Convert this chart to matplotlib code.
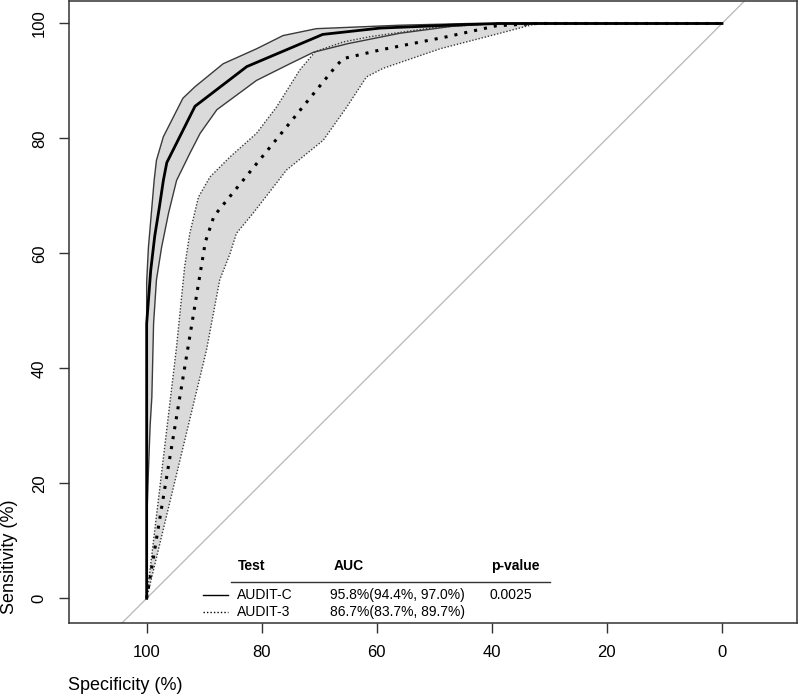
import matplotlib
matplotlib.use("Agg")
import matplotlib.pyplot as plt
from matplotlib.lines import Line2D

plt.rcParams['font.family'] = ['Liberation Sans', 'DejaVu Sans']

# AUDIT-C ROC curve (specificity %, sensitivity %)
spec_c = [100, 100, 99.3, 98.6, 97.8, 97.1, 96.5, 91.6, 82.6, 69.4, 59.4, 45.0, 38.8, 0]
sens_c = [0, 47.8, 57.0, 63.0, 68.0, 72.7, 75.8, 85.6, 92.5, 98.1, 99.2, 99.8, 100, 100]
# AUDIT-C confidence band
cu_spec = [100, 100, 99.7, 99.1, 98.7, 98.3, 97.1, 93.7, 91.6, 86.7, 80.9, 76.3, 70.5, 56.0, 44.0, 0]
cu_sens = [0, 55.0, 61.0, 68.0, 72.7, 76.2, 80.3, 87.0, 89.0, 93.0, 95.6, 97.9, 99.1, 99.7, 100, 100]
cl_spec = [100, 100, 99.7, 99.4, 99.1, 98.8, 98.3, 97.4, 96.2, 94.8, 92.5, 90.7, 87.8,
           80.9, 75.1, 71.0, 65.0, 56.0, 47.0, 39.0, 0]
cl_sens = [0, 13.0, 22.0, 30.0, 35.0, 47.8, 55.4, 61.1, 67.0, 72.7, 77.4, 80.9, 85.0,
           90.1, 93.0, 95.0, 96.5, 98.3, 99.5, 100, 100]

# AUDIT-3 ROC curve
spec_3 = [100, 89.8, 88.3, 67.0, 65.8, 59.4, 47.8, 39.2, 32.2, 0]
sens_3 = [0, 62.0, 66.5, 92.7, 93.9, 95.4, 97.7, 99.6, 100, 100]
# AUDIT-3 confidence band
u3_spec = [100, 94.8, 93.4, 92.5, 91.0, 89.0, 85.5, 80.9, 77.4, 73.4, 70.7, 65.8, 61.2, 50.0, 39.2, 0]
u3_sens = [0, 43.8, 57.7, 63.5, 69.8, 73.3, 76.8, 80.9, 85.5, 91.9, 95.1, 96.8, 97.7, 99.3, 100, 100]
l3_spec = [100, 89.6, 87.3, 85.5, 84.4, 81.5, 75.7, 69.3, 65.2, 61.8, 58.9, 49.0, 38.6, 32.2, 0]
l3_sens = [0, 43.2, 55.4, 60.0, 63.5, 67.0, 74.5, 79.7, 85.5, 90.7, 92.2, 95.6, 98.3, 100, 100]

tests = ["AUDIT-C", "AUDIT-3"]
aucs = ["95.8%(94.4%, 97.0%)", "86.7%(83.7%, 89.7%)"]
pvalue = "0.0025"
ticks = [100, 80, 60, 40, 20, 0]

W, H = 799, 694
fig = plt.figure(figsize=(W / 100, H / 100), dpi=100)
ax = fig.add_axes([69 / W, 1 - 623 / H, (797 - 69) / W, (623 - 0.5) / H])

ax.axline((100, 0), (0, 100), color='#bdbdbd', lw=1, zorder=1)

band = '#dadada'
ax.fill(cu_spec + cl_spec[::-1], cu_sens + cl_sens[::-1], color=band, lw=0, zorder=2)
ax.fill(u3_spec + l3_spec[::-1], u3_sens + l3_sens[::-1], color=band, lw=0, zorder=2)

ax.plot(cu_spec, cu_sens, color='#3a3a3a', lw=1, zorder=3)
ax.plot(cl_spec, cl_sens, color='#3a3a3a', lw=1, zorder=3)
ax.plot(u3_spec, u3_sens, color='#3a3a3a', lw=1, ls=(0, (1, 1.3)), zorder=3)
ax.plot(l3_spec, l3_sens, color='#3a3a3a', lw=1, ls=(0, (1, 1.3)), zorder=3)

ax.plot(spec_3, sens_3, color='black', lw=2.2, ls=(0, (1, 2.3)), zorder=4)
ax.plot(spec_c, sens_c, color='black', lw=2, zorder=5)

ax.set_xlim(113.5, -13.04)
ax.set_ylim(-4.29, 104.0)
ax.set_xticks(ticks)
ax.set_yticks(ticks)
ax.tick_params(length=7, width=1, color='#333333', labelsize=12, pad=9)
for lab in ax.get_yticklabels():
    lab.set_rotation(90)
    lab.set_va('center')
for s in ax.spines.values():
    s.set_color('#333333')
    s.set_linewidth(1.1)

fig.text(10 / W, 1 - 557 / H, "Sensitivity (%)", rotation=90, ha='center', va='center', fontsize=13)
fig.text(68 / W, 1 - 685 / H, "Specificity (%)", ha='left', va='center', fontsize=13)

# legend table
def fx(px):
    return px / W

def fy(py):
    return 1 - py / H

fig.text(fx(238), fy(566), "Test", fontsize=10, fontweight='bold', va='center')
fig.text(fx(334), fy(566), "AUC", fontsize=10, fontweight='bold', va='center')
fig.text(fx(491), fy(566), "p-value", fontsize=10, fontweight='bold', va='center')
fig.add_artist(Line2D([fx(231), fx(550)], [fy(582), fy(582)], color='#333333', lw=1,
                      transform=fig.transFigure))
styles = ['-', (0, (1, 1.5))]
for i, (t, a) in enumerate(zip(tests, aucs)):
    yy = 595 + i * 17
    fig.add_artist(Line2D([fx(203), fx(228)], [fy(yy), fy(yy)], color='black', lw=1,
                          ls=styles[i], transform=fig.transFigure))
    fig.text(fx(237), fy(yy), t, fontsize=10, va='center')
    fig.text(fx(330), fy(yy), a, fontsize=10, va='center')
fig.text(fx(489), fy(595), pvalue, fontsize=10, va='center')

fig.savefig("out.png", dpi=100)
